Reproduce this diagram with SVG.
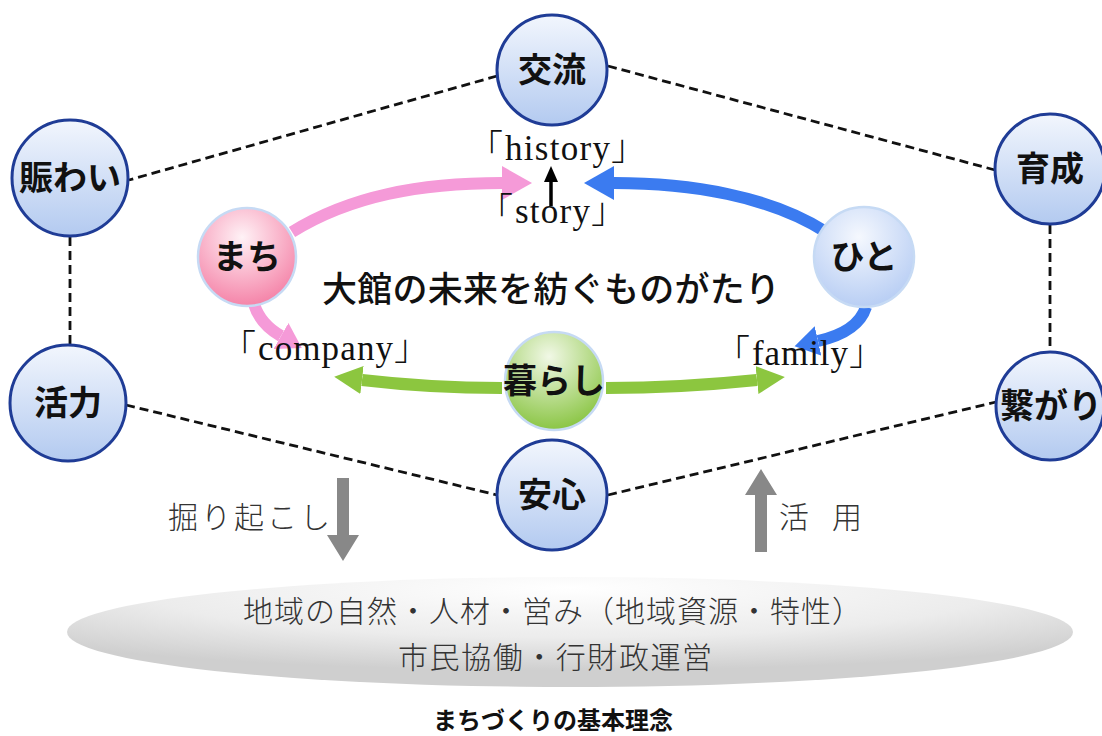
<svg xmlns="http://www.w3.org/2000/svg" width="1102" height="736" viewBox="0 0 1102 736">
<defs>
<linearGradient id="gBlue" x1="0" y1="0" x2="0" y2="1">
<stop offset="0" stop-color="#f2f6fd"/><stop offset="1" stop-color="#b3caf0"/>
</linearGradient>
<radialGradient id="gPink" cx="0.45" cy="0.3" r="0.75">
<stop offset="0" stop-color="#fff2f6"/><stop offset="1" stop-color="#f47ca3"/>
</radialGradient>
<radialGradient id="gHito" cx="0.45" cy="0.3" r="0.75">
<stop offset="0" stop-color="#f5f8fe"/><stop offset="1" stop-color="#b4cbf3"/>
</radialGradient>
<radialGradient id="gGreen" cx="0.45" cy="0.25" r="0.8">
<stop offset="0" stop-color="#f1f8e6"/><stop offset="1" stop-color="#84c23a"/>
</radialGradient>
<radialGradient id="gBase" cx="0.5" cy="0.15" r="0.7" fx="0.5" fy="0.1">
<stop offset="0" stop-color="#ffffff"/><stop offset="0.6" stop-color="#ececec"/><stop offset="1" stop-color="#cfcfcf"/>
</radialGradient>
<marker id="mPink" markerUnits="userSpaceOnUse" markerWidth="32" markerHeight="34" refX="0" refY="17" orient="auto"><path d="M0,0 L30,17 L0,34 z" fill="#f59ad8"/></marker>
<marker id="mPink2" markerUnits="userSpaceOnUse" markerWidth="26" markerHeight="30" refX="0" refY="15" orient="auto"><path d="M0,0 L24,15 L0,30 z" fill="#f59ad8"/></marker>
<marker id="mBlue" markerUnits="userSpaceOnUse" markerWidth="32" markerHeight="34" refX="0" refY="17" orient="auto"><path d="M0,0 L30,17 L0,34 z" fill="#3b7bf0"/></marker>
<marker id="mBlue2" markerUnits="userSpaceOnUse" markerWidth="26" markerHeight="30" refX="0" refY="15" orient="auto"><path d="M0,0 L24,15 L0,30 z" fill="#3b7bf0"/></marker>
<marker id="mGreen" markerUnits="userSpaceOnUse" markerWidth="30" markerHeight="28" refX="0" refY="14" orient="auto"><path d="M0,0 L28,14 L0,28 z" fill="#8cc63f"/></marker>
<marker id="mBlack" markerUnits="userSpaceOnUse" markerWidth="18" markerHeight="16" refX="0" refY="7" orient="auto"><path d="M0,0 L16,7 L0,14 z" fill="#000"/></marker>
</defs>
<style>
.outer{fill:url(#gBlue);stroke:#1f3c96;stroke-width:3}
.inner{stroke:#c6daf4;stroke-width:2.5}
.dash{fill:none;stroke:#111;stroke-width:2.8;stroke-dasharray:9 5}
.jp{font-family:"Noto Sans CJK JP","Noto Sans CJK SC",sans-serif;fill:#111;text-anchor:middle}
.node{font-size:34px;font-weight:700}
.en{font-family:"Liberation Serif","Noto Sans CJK JP",serif;font-size:35px;fill:#111}
.br{font-family:"Noto Sans CJK JP",sans-serif;font-weight:300}
.sans{font-family:"Noto Sans CJK JP",sans-serif;fill:#333;font-weight:300}
</style>

<g id="base">
<ellipse cx="570" cy="632" rx="503" ry="55" fill="url(#gBase)"/>
<text class="sans" x="243" y="622" font-size="30" textLength="619" lengthAdjust="spacing">地域の自然・人材・営み（地域資源・特性）</text>
<text class="sans" x="398" y="668" font-size="30" textLength="314" lengthAdjust="spacing">市民協働・行財政運営</text>
</g>

<g id="connectors">
<line class="dash" x1="497" y1="76" x2="129" y2="180"/>
<line class="dash" x1="608" y1="66" x2="995" y2="170"/>
<line class="dash" x1="70" y1="237" x2="70" y2="344"/>
<line class="dash" x1="1050" y1="225" x2="1050" y2="352"/>
<line class="dash" x1="126" y1="405" x2="497" y2="495"/>
<line class="dash" x1="608" y1="495" x2="996" y2="402"/>
<path d="M292 232 C350 196 420 183 502 183" fill="none" stroke="#f59ad8" stroke-width="12" marker-end="url(#mPink)"/>
<path d="M254 304 Q260 324 281 336" fill="none" stroke="#f59ad8" stroke-width="12" marker-end="url(#mPink2)"/>
<path d="M826 232 C770 196 690 183 614 183" fill="none" stroke="#3b7bf0" stroke-width="12" marker-end="url(#mBlue)"/>
<path d="M866 307 Q858 332 818 341" fill="none" stroke="#3b7bf0" stroke-width="12" marker-end="url(#mBlue2)"/>
<path d="M502 388 Q430 388 362 380" fill="none" stroke="#8cc63f" stroke-width="12" marker-end="url(#mGreen)"/>
<path d="M606 388 Q680 388 757 380" fill="none" stroke="#8cc63f" stroke-width="12" marker-end="url(#mGreen)"/>
<line x1="551" y1="206" x2="551" y2="182" stroke="#000" stroke-width="3.5" marker-end="url(#mBlack)"/>
<path d="M337 478 H349 V535 H359 L343 561 L327 535 H337 z" fill="#888"/>
<path d="M755 552 H767 V495 H777 L761 469 L745 495 H755 z" fill="#888"/>
</g>

<g id="node-kouryu"><circle class="outer" cx="552" cy="70" r="55"/><text class="jp node" x="552" y="82">交流</text></g>
<g id="node-nigiwai"><circle class="outer" cx="70" cy="178" r="58"/><text class="jp node" x="70" y="190" font-size="35">賑わい</text></g>
<g id="node-katsuryoku"><circle class="outer" cx="68" cy="403" r="58"/><text class="jp node" x="68" y="415">活力</text></g>
<g id="node-ikusei"><circle class="outer" cx="1050" cy="169" r="55"/><text class="jp node" x="1050" y="181">育成</text></g>
<g id="node-tsunagari"><circle class="outer" cx="1050" cy="406" r="54"/><text class="jp node" x="1051" y="418" font-size="34">繋がり</text></g>
<g id="node-anshin"><circle class="outer" cx="552" cy="495" r="55"/><text class="jp node" x="552" y="507">安心</text></g>

<g id="node-machi"><circle class="inner" cx="247" cy="257" r="49" fill="url(#gPink)"/><text class="jp node" x="247" y="269" font-weight="500">まち</text></g>
<g id="node-hito"><circle class="inner" cx="864" cy="257" r="50" fill="url(#gHito)"/><text class="jp node" x="864" y="269" font-weight="500">ひと</text></g>
<g id="node-kurashi"><circle class="inner" cx="554" cy="381" r="49" fill="url(#gGreen)"/><text class="jp node" x="554" y="393" font-weight="700">暮らし</text></g>

<g id="labels">
<text class="en" y="160"><tspan class="br" x="468">「</tspan><tspan x="505" textLength="105" lengthAdjust="spacing">history</tspan><tspan class="br" x="611">」</tspan></text>
<text class="en" y="223"><tspan class="br" x="478">「</tspan><tspan x="515" textLength="75" lengthAdjust="spacing">story</tspan><tspan class="br" x="591">」</tspan></text>
<text class="en" y="360"><tspan class="br" x="221">「</tspan><tspan x="258" textLength="135" lengthAdjust="spacing">company</tspan><tspan class="br" x="394">」</tspan></text>
<text class="en" y="365"><tspan class="br" x="715">「</tspan><tspan x="752" textLength="96" lengthAdjust="spacing">family</tspan><tspan class="br" x="849">」</tspan></text>
<text class="jp" x="551" y="302" font-size="35" font-weight="500" textLength="458" lengthAdjust="spacing">大館の未来を紡ぐものがたり</text>
<text class="sans" x="168" y="528" font-size="30" textLength="162" lengthAdjust="spacing">掘り起こし</text>
<text class="sans" y="528" font-size="30"><tspan x="779">活</tspan><tspan x="832">用</tspan></text>
<text class="jp" x="553" y="729" font-size="24" font-weight="700">まちづくりの基本理念</text>
</g>
</svg>
